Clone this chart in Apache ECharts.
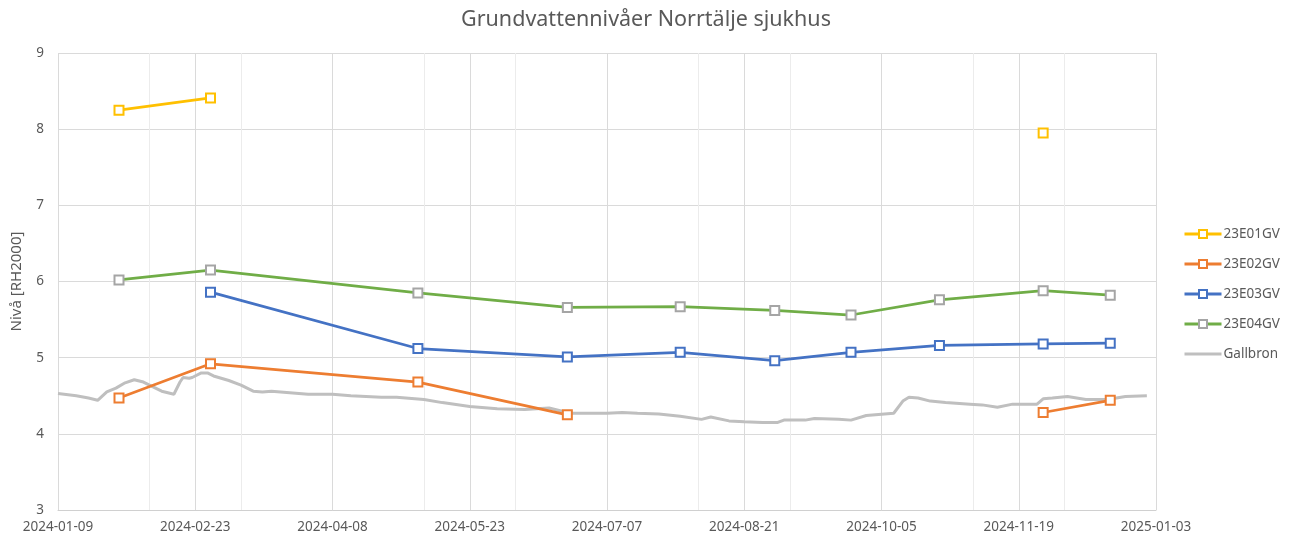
<!DOCTYPE html>
<html lang="sv">
<head>
  <meta charset="UTF-8">
  <title>Grundvattennivåer Norrtälje sjukhus</title>
  <script src="https://cdn.jsdelivr.net/npm/echarts@6/dist/echarts.min.js"></script>
  <style>
    html, body { margin: 0; padding: 0; background: #fff; }
    #chart { width: 1292px; height: 542px; }
  </style>
</head>
<body>
  <div id="chart"></div>
  <script>
    // measurement dates (manual readings)
    var aDates = ['2024-01-29', '2024-02-28', '2024-05-06', '2024-06-24', '2024-07-31',
      '2024-08-31', '2024-09-25', '2024-10-24', '2024-11-27', '2024-12-19'];
    var a23E01 = [8.25, 8.41, null, null, null, null, null, null, 7.95, null];
    var a23E02 = [4.47, 4.92, 4.68, 4.25, null, null, null, null, 4.28, 4.44];
    var a23E03 = [null, 5.86, 5.12, 5.01, 5.07, 4.96, 5.07, 5.16, 5.18, 5.19];
    var a23E04 = [6.02, 6.15, 5.85, 5.66, 5.67, 5.62, 5.56, 5.76, 5.88, 5.82];

    // logger Gallbron
    var aGbDates = ['2024-01-09', '2024-01-15', '2024-01-19', '2024-01-22', '2024-01-25', '2024-01-28',
      '2024-01-31', '2024-02-03', '2024-02-06', '2024-02-09', '2024-02-12', '2024-02-16', '2024-02-18',
      '2024-02-19', '2024-02-21', '2024-02-22', '2024-02-25', '2024-02-27', '2024-02-29', '2024-03-05',
      '2024-03-09', '2024-03-13', '2024-03-16', '2024-03-19', '2024-03-25', '2024-03-31', '2024-04-08',
      '2024-04-14', '2024-04-24', '2024-04-29', '2024-05-08', '2024-05-14', '2024-05-23', '2024-06-01',
      '2024-06-10', '2024-06-18', '2024-06-25', '2024-07-01', '2024-07-07', '2024-07-12', '2024-07-17',
      '2024-07-24', '2024-07-31', '2024-08-07', '2024-08-10', '2024-08-16', '2024-08-21', '2024-08-27',
      '2024-09-01', '2024-09-03', '2024-09-10', '2024-09-13', '2024-09-21', '2024-09-25', '2024-09-30',
      '2024-10-06', '2024-10-09', '2024-10-12', '2024-10-14', '2024-10-17', '2024-10-21', '2024-10-26',
      '2024-11-03', '2024-11-07', '2024-11-12', '2024-11-17', '2024-11-22', '2024-11-25', '2024-11-27',
      '2024-11-30', '2024-12-05', '2024-12-11', '2024-12-18', '2024-12-24', '2024-12-31'];
    var aGbValues = [4.53, 4.50, 4.47, 4.44, 4.55, 4.60,
      4.67, 4.71, 4.68, 4.62, 4.56, 4.52, 4.68,
      4.74, 4.73, 4.74, 4.80, 4.80, 4.76, 4.70,
      4.64, 4.56, 4.55, 4.56, 4.54, 4.52, 4.52,
      4.50, 4.48, 4.48, 4.45, 4.41, 4.36, 4.33,
      4.32, 4.34, 4.27, 4.27, 4.27, 4.28, 4.27,
      4.26, 4.23, 4.19, 4.22, 4.17, 4.16, 4.15,
      4.15, 4.18, 4.18, 4.20, 4.19, 4.18, 4.24,
      4.26, 4.27, 4.43, 4.48, 4.47, 4.43, 4.41,
      4.39, 4.38, 4.35, 4.39, 4.39, 4.39, 4.46,
      4.47, 4.49, 4.45, 4.45, 4.49, 4.50];

    var sStart = '2024-01-09';
    var DAY = 86400000;

    function dayOf(s) {
      return (Date.parse(s) - Date.parse(sStart)) / DAY;
    }
    function dateLabel(v) {
      return new Date(Date.parse(sStart) + v * DAY).toISOString().slice(0, 10);
    }
    function pairs(dates, values) {
      var out = [];
      for (var i = 0; i < dates.length; i++) {
        out.push([dayOf(dates[i]), values[i]]);
      }
      return out;
    }

    var txt = '#595959';
    var font = 'Noto Sans';

    function pointSeries(name, values, lineColor, markColor) {
      return {
        name: name,
        type: 'line',
        xAxisIndex: 1,
        data: pairs(aDates, values),
        symbol: 'emptyRect',
        symbolSize: 9,
        showAllSymbol: true,
        connectNulls: false,
        lineStyle: { color: lineColor, width: 2.75 },
        itemStyle: { color: markColor, borderColor: markColor, borderWidth: 1.2 },
        emphasis: { disabled: true }
      };
    }

    var oChart = echarts.init(document.getElementById('chart'));
    var opt = {
      animation: false,
      backgroundColor: '#fff',
      textStyle: { fontFamily: font },
      title: {
        text: 'Grundvattennivåer Norrtälje sjukhus',
        left: 'center',
        top: 4,
        textStyle: { fontFamily: font, fontSize: 21.5, fontWeight: 'normal', color: txt }
      },
      legend: {
        orient: 'vertical',
        left: 1178,
        top: 222,
        itemWidth: 37,
        itemHeight: 10,
        itemGap: 16,
        lineStyle: { width: 3 },
        textStyle: { fontFamily: font, fontSize: 13.5, color: txt, padding: [0, 0, 0, -3] },
        data: ['23E01GV', '23E02GV', '23E03GV', '23E04GV',
          { name: 'Gallbron', itemStyle: { opacity: 0 } }]
      },
      grid: { left: 58, right: 136, top: 53, bottom: 32 },
      xAxis: [
        {
          // minor gridlines every 30 days
          type: 'value',
          position: 'bottom',
          min: 0,
          max: 360,
          interval: 30,
          axisLine: { show: false },
          axisTick: { show: false },
          axisLabel: { show: false },
          splitLine: { show: true, lineStyle: { color: '#ECECEC', width: 1 } }
        },
        {
          type: 'value',
          position: 'bottom',
          min: 0,
          max: 360,
          interval: 45,
          axisLine: { show: true, onZero: false, lineStyle: { color: '#D0D0D0', width: 1 } },
          axisTick: { show: false },
          axisLabel: {
            color: txt,
            fontFamily: font,
            fontSize: 13.5,
            margin: 10,
            showMinLabel: true,
            showMaxLabel: true,
            formatter: dateLabel
          },
          splitLine: { show: true, lineStyle: { color: '#DADADA', width: 1 } }
        }
      ],
      yAxis: {
        type: 'value',
        min: 3,
        max: 9,
        interval: 1,
        name: 'Nivå [RH2000]',
        nameLocation: 'middle',
        nameGap: 34,
        nameTextStyle: { color: txt, fontFamily: font, fontSize: 15 },
        axisLine: { show: false },
        axisTick: { show: false },
        axisLabel: { color: txt, fontFamily: font, fontSize: 13.5, margin: 14 },
        splitLine: { show: true, lineStyle: { color: '#DADADA', width: 1 } }
      },
      series: [
        pointSeries('23E01GV', a23E01, '#FFC000', '#FFC000'),
        pointSeries('23E02GV', a23E02, '#ED7D31', '#ED7D31'),
        pointSeries('23E03GV', a23E03, '#4472C4', '#4472C4'),
        pointSeries('23E04GV', a23E04, '#70AD47', '#A5A5A5'),
        {
          name: 'Gallbron',
          type: 'line',
          xAxisIndex: 1,
          data: pairs(aGbDates, aGbValues),
          symbol: 'none',
          z: 1,
          lineStyle: { color: '#BFBFBF', width: 3 },
          itemStyle: { color: '#BFBFBF' },
          emphasis: { disabled: true }
        }
      ]
    };
    oChart.setOption(opt);
  </script>
</body>
</html>
